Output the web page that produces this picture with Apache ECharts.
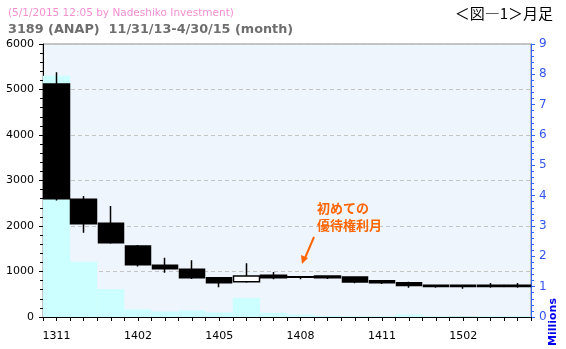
<!DOCTYPE html>
<html>
<head>
<meta charset="utf-8">
<script src="https://cdn.jsdelivr.net/npm/echarts@6/dist/echarts.min.js"></script>
<style>
html,body{margin:0;padding:0;background:#fff;}
#c{width:566px;height:349px;}
</style>
</head>
<body>
<div id="c"></div>
<script>
// months (YYMM)
var categories = ['1311','1312','1401','1402','1403','1404','1405','1406','1407','1408','1409','1410','1411','1412','1501','1502','1503','1504'];
// [open, close, low, high]
var opens  = [5120, 2590, 2060, 1560, 1140, 1050, 860, 776, 920, 882, 900, 880, 795, 755, 700, 700, 700, 700];
var closes = [2600, 2050, 1630, 1150, 1060, 865, 755, 900, 865, 872, 860, 770, 755, 690, 668, 668, 670, 670];
var lows   = [2560, 1850, 1610, 1110, 975, 835, 655, 755, 830, 830, 835, 740, 725, 645, 645, 622, 645, 645];
var highs  = [5380, 2660, 2440, 1580, 1300, 1250, 865, 1180, 990, 900, 920, 880, 800, 775, 703, 703, 745, 745];
// volume, millions
var volumes = [7.95, 1.82, 0.92, 0.25, 0.18, 0.22, 0.15, 0.63, 0.14, 0.08, 0.04, 0.03, 0.03, 0.08, 0.03, 0.02, 0.03, 0.03];

var titleLine1 = '(5/1/2015 12:05 by Nadeshiko Investment)';
var titleLine2 = '3189 (ANAP)  11/31/13-4/30/15 (month)';
var figLabel = '＜図―1＞月足';
var noteText = '初めての\n優待権利月';
var volUnit = 'Millions';

var candleData = categories.map(function (c, i) { return [opens[i], closes[i], lows[i], highs[i]]; });

var chart = echarts.init(document.getElementById('c'), null, {renderer: 'canvas'});
var font = 'DejaVu Sans';
chart.setOption({
  animation: false,
  backgroundColor: '#ffffff',
  grid: {left: 43, right: 35, top: 44, bottom: 32, show: true, backgroundColor: '#EEF5FD', borderColor: '#8a8a8a', borderWidth: 1},
  xAxis: [{
    type: 'category', data: categories, boundaryGap: true,
    axisLine: {show: true, lineStyle: {color: '#000', width: 1}},
    axisTick: {show: true, interval: 0, length: 4, lineStyle: {color: '#000'}},
    axisLabel: {interval: 2, color: '#000', fontFamily: font, fontSize: 11, margin: 14},
    splitLine: {show: false}
  }, {
    type: 'value', min: 0, max: categories.length, interval: 0.5, position: 'bottom',
    axisLine: {show: false},
    axisTick: {show: true, length: 4, lineStyle: {color: '#000'}},
    axisLabel: {show: false},
    splitLine: {show: false}
  }],
  yAxis: [{
    type: 'value', min: 0, max: 6000, interval: 1000,
    axisLine: {show: true, lineStyle: {color: '#000'}},
    axisTick: {show: true, length: 4, lineStyle: {color: '#000'}},
    minorTick: {show: true, splitNumber: 5, length: 3, lineStyle: {color: '#000'}},
    axisLabel: {color: '#000', fontFamily: font, fontSize: 11, margin: 9, formatter: function (v) { return String(v); }},
    splitLine: {show: true, lineStyle: {color: '#c4c4c4', type: [4, 3]}}
  }, {
    type: 'value', min: 0, max: 9, interval: 1, position: 'right',
    axisLine: {show: true, lineStyle: {color: '#3366FF'}},
    axisTick: {show: true, length: 4, lineStyle: {color: '#3366FF'}},
    minorTick: {show: true, splitNumber: 5, length: 3, lineStyle: {color: '#3366FF'}},
    axisLabel: {color: '#3355EE', fontFamily: font, fontSize: 12, margin: 8},
    splitLine: {show: false}
  }],
  series: [{
    type: 'bar', xAxisIndex: 0, yAxisIndex: 1, data: volumes,
    barWidth: '100%', barGap: '0%', barCategoryGap: '0%',
    itemStyle: {color: '#CCFFFF'}, z: 1, silent: true
  }, {
    type: 'candlestick', xAxisIndex: 0, yAxisIndex: 0, data: candleData,
    barWidth: '96%',
    itemStyle: {color: '#ffffff', color0: '#000000', borderColor: '#000000', borderColor0: '#000000', borderWidth: 1.5},
    z: 3
  }],
  graphic: [
    {type: 'text', left: 8, top: 8, style: {text: titleLine1, fill: '#F58FD0', font: '10.5px "DejaVu Sans"'}},
    {type: 'text', left: 8, top: 23, style: {text: titleLine2, fill: '#6e6e6e', font: 'bold 12.8px "DejaVu Sans"'}},
    {type: 'text', right: 13, top: 6, style: {text: figLabel, fill: '#000', font: '15px "Noto Sans CJK JP"'}},
    {type: 'text', x: 317, y: 200, style: {text: noteText, fill: '#FF6600', font: 'bold 13px "Noto Sans CJK JP"', lineHeight: 17}, z: 10},
    {type: 'line', shape: {x1: 314, y1: 237, x2: 305, y2: 258}, style: {stroke: '#FF6600', lineWidth: 2}, z: 10},
    {type: 'polygon', shape: {points: [[302, 264], [301, 255], [308, 258]]}, style: {fill: '#FF6600'}, z: 10},
    {type: 'text', x: 553, y: 322, rotation: Math.PI / 2, style: {text: volUnit, fill: '#0000EE', font: 'bold 11px "DejaVu Sans"', align: 'center', verticalAlign: 'middle'}}
  ]
});
</script>
</body>
</html>
